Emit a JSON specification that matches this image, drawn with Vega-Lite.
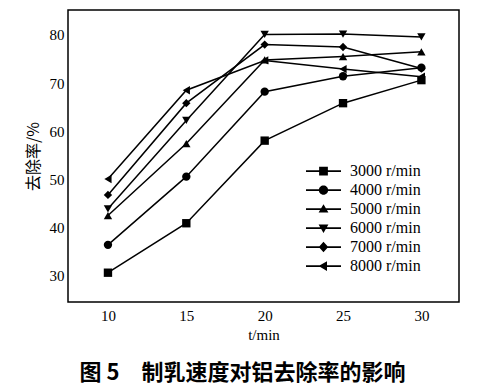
{
  "$schema": "https://vega.github.io/schema/vega-lite/v6.json",
  "autosize": {"type": "none"},
  "width": 391,
  "height": 292,
  "padding": {"left": 68, "top": 10, "right": 44, "bottom": 88},
  "background": "white",
  "config": {
    "view": {"stroke": "black", "strokeWidth": 1.5},
    "axis": {"domain": false, "ticks": false, "grid": false, "labelFont": "Liberation Serif", "labelFontSize": 15, "labelColor": "black", "titleFont": "Liberation Serif", "titleFontSize": 15, "titleColor": "black", "titleFontWeight": "normal"}
  },
  "title": {"text": "图 5　制乳速度对铝去除率的影响", "orient": "bottom", "anchor": "middle", "font": "Noto Sans CJK SC", "fontSize": 22, "fontWeight": "bold", "color": "black", "offset": 21, "dx": -21},
  "data": {"values": [
    {"t": 10, "speed": "3000 r/min", "rate": 30.5},
    {"t": 15, "speed": "3000 r/min", "rate": 40.8},
    {"t": 20, "speed": "3000 r/min", "rate": 58.0},
    {"t": 25, "speed": "3000 r/min", "rate": 65.8},
    {"t": 30, "speed": "3000 r/min", "rate": 70.6},
    {"t": 10, "speed": "4000 r/min", "rate": 36.3},
    {"t": 15, "speed": "4000 r/min", "rate": 50.5},
    {"t": 20, "speed": "4000 r/min", "rate": 68.2},
    {"t": 25, "speed": "4000 r/min", "rate": 71.4},
    {"t": 30, "speed": "4000 r/min", "rate": 73.2},
    {"t": 10, "speed": "5000 r/min", "rate": 42.4},
    {"t": 15, "speed": "5000 r/min", "rate": 57.4},
    {"t": 20, "speed": "5000 r/min", "rate": 74.8},
    {"t": 25, "speed": "5000 r/min", "rate": 75.5},
    {"t": 30, "speed": "5000 r/min", "rate": 76.5},
    {"t": 10, "speed": "6000 r/min", "rate": 43.8},
    {"t": 15, "speed": "6000 r/min", "rate": 62.2},
    {"t": 20, "speed": "6000 r/min", "rate": 80.1},
    {"t": 25, "speed": "6000 r/min", "rate": 80.2},
    {"t": 30, "speed": "6000 r/min", "rate": 79.6},
    {"t": 10, "speed": "7000 r/min", "rate": 46.7},
    {"t": 15, "speed": "7000 r/min", "rate": 65.8},
    {"t": 20, "speed": "7000 r/min", "rate": 78.0},
    {"t": 25, "speed": "7000 r/min", "rate": 77.5},
    {"t": 30, "speed": "7000 r/min", "rate": 73.0},
    {"t": 10, "speed": "8000 r/min", "rate": 50.0},
    {"t": 15, "speed": "8000 r/min", "rate": 68.5},
    {"t": 20, "speed": "8000 r/min", "rate": 74.7},
    {"t": 25, "speed": "8000 r/min", "rate": 72.9},
    {"t": 30, "speed": "8000 r/min", "rate": 71.3}
  ]},
  "encoding": {
    "x": {"field": "t", "type": "quantitative", "scale": {"domain": [7.45, 32.4], "nice": false, "zero": false}, "axis": {"values": [10, 15, 20, 25, 30], "title": "t/min", "labelPadding": 6, "titlePadding": 4}},
    "y": {"field": "rate", "type": "quantitative", "scale": {"domain": [24.4, 85.2], "nice": false, "zero": false}, "axis": {"values": [30, 40, 50, 60, 70, 80], "title": "去除率/%", "titleFont": "Noto Sans CJK SC", "titleFontSize": 16, "labelPadding": 4, "titlePadding": 8}}
  },
  "layer": [
    {
      "mark": {"type": "line", "color": "black", "strokeWidth": 1.5},
      "encoding": {"detail": {"field": "speed"}, "order": {"field": "t"}}
    },
    {
      "mark": {"type": "point", "filled": true, "color": "black", "opacity": 1, "size": 70},
      "encoding": {"shape": {"field": "speed", "type": "nominal", "scale": {"domain": ["3000 r/min", "4000 r/min", "5000 r/min", "6000 r/min", "7000 r/min", "8000 r/min"], "range": ["square", "circle", "triangle-up", "triangle-down", "diamond", "triangle-left"]}, "legend": null}}
    },
    {
      "transform": [{"filter": "datum.t < 0"}],
      "mark": {"type": "point", "filled": true, "color": "black", "opacity": 1},
      "encoding": {"shape": {"field": "speed", "type": "nominal", "scale": {"domain": ["3000 r/min", "4000 r/min", "5000 r/min", "6000 r/min", "7000 r/min", "8000 r/min"], "range": [
        "M-1,-0.045H1V0.045H-1ZM-0.25,-0.25H0.25V0.25H-0.25Z",
        "M-1,-0.045H1V0.045H-1ZM-0.27,0A0.27,0.27 0 1,1 0.27,0A0.27,0.27 0 1,1 -0.27,0Z",
        "M-1,-0.045H1V0.045H-1ZM0,-0.28L0.28,0.2L-0.28,0.2Z",
        "M-1,-0.045H1V0.045H-1ZM0,0.28L-0.28,-0.2L0.28,-0.2Z",
        "M-1,-0.045H1V0.045H-1ZM0,-0.3L0.27,0L0,0.3L-0.27,0Z",
        "M-1,-0.045H1V0.045H-1ZM-0.28,0L0.2,-0.28L0.2,0.28Z"
      ]}, "legend": {"title": null, "orient": "none", "legendX": 237, "legendY": 153, "padding": 0, "symbolSize": 1225, "clipHeight": 16.2, "rowPadding": 2, "labelOffset": 8, "labelFont": "Liberation Serif", "labelFontSize": 16, "labelColor": "black", "encode": {"symbols": {"update": {"stroke": {"value": "black"}, "strokeWidth": {"value": 0.5}, "fill": {"value": "black"}, "opacity": {"value": 1}}}}}}}
    }
  ],
  "resolve": {"scale": {"shape": "independent"}, "legend": {"shape": "independent"}}
}
